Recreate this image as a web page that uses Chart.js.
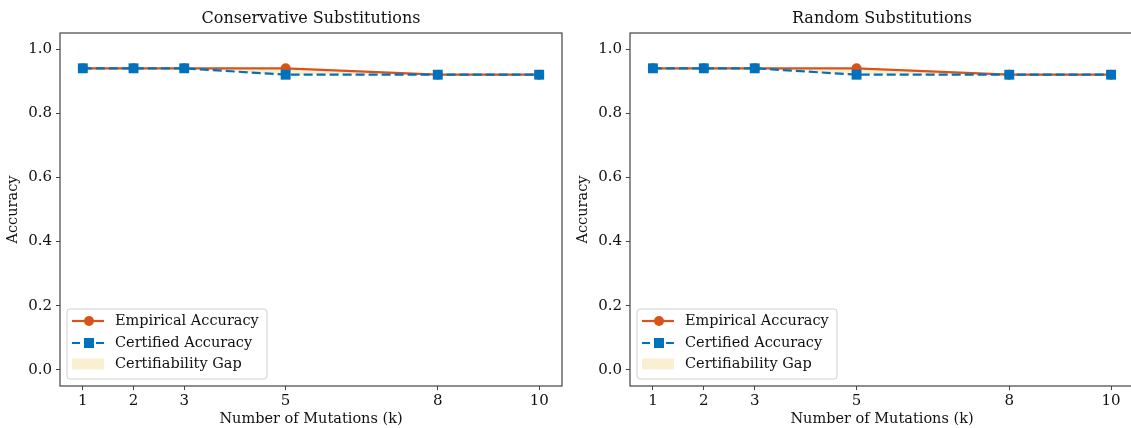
<!DOCTYPE html>
<html>
<head>
<meta charset="utf-8">
<script src="https://cdn.jsdelivr.net/npm/chart.js@4"></script>
<style>
  html, body { margin: 0; padding: 0; background: #fff; overflow: hidden; }
  body { width: 1131px; height: 428px; position: relative; }
  .panel { position: absolute; top: 0; height: 428px; }
</style>
</head>
<body>
<div class="panel" style="left:0; width:569px;"><canvas id="leftChart" width="569" height="428"></canvas></div>
<div class="panel" style="left:570px; width:571px;"><canvas id="rightChart" width="571" height="428"></canvas></div>
<script>
// data
const mutations = [1, 2, 3, 5, 8, 10];
const xTicks = [1, 2, 3, 5, 8, 10];
const yTicks = [0.0, 0.2, 0.4, 0.6, 0.8, 1.0];

const conservativeEmpirical = [0.94, 0.94, 0.94, 0.94, 0.92, 0.92];
const conservativeCertified = [0.94, 0.94, 0.94, 0.92, 0.92, 0.92];
const randomEmpirical = [0.94, 0.94, 0.94, 0.94, 0.92, 0.92];
const randomCertified = [0.94, 0.94, 0.94, 0.92, 0.92, 0.92];

const legendLabels = ['Empirical Accuracy', 'Certified Accuracy', 'Certifiability Gap'];

const orange = '#D95319';
const blue = '#0072BD';
const gapColor = 'rgba(237,177,32,0.2)';
const axisColor = '#444';
const serif = "'DejaVu Serif', serif";

function toPoints(values) {
    return mutations.map((k, i) => ({ x: k, y: values[i] }));
}

// frame, title and matplotlib-style legend
const decorPlugin = {
    id: 'decor',
    afterDraw(chart, args, opts) {
        const ctx = chart.ctx;
        const a = chart.chartArea;
        ctx.save();
        ctx.strokeStyle = axisColor;
        ctx.lineWidth = 1.2;
        ctx.strokeRect(a.left, a.top, a.right - a.left, a.bottom - a.top);

        // title
        ctx.fillStyle = '#111';
        ctx.font = '16px ' + serif;
        ctx.textAlign = 'center';
        ctx.textBaseline = 'middle';
        ctx.fillText(opts.title, (a.left + a.right) / 2, 19);

        // legend box
        const bx = a.left + 7, by = a.bottom - 77, bw = 200, bh = 70;
        ctx.beginPath();
        ctx.roundRect(bx, by, bw, bh, 3);
        ctx.fillStyle = 'rgba(255,255,255,0.85)';
        ctx.fill();
        ctx.strokeStyle = '#d0d0d0';
        ctx.lineWidth = 1;
        ctx.stroke();

        const rows = [by + 12, by + 34, by + 55];
        const lx0 = bx + 5, lx1 = bx + 37, mx = bx + 22;

        // empirical
        ctx.strokeStyle = orange;
        ctx.lineWidth = 2.2;
        ctx.setLineDash([]);
        ctx.beginPath(); ctx.moveTo(lx0, rows[0]); ctx.lineTo(lx1, rows[0]); ctx.stroke();
        ctx.fillStyle = orange;
        ctx.beginPath(); ctx.arc(mx, rows[0], 5, 0, Math.PI * 2); ctx.fill();

        // certified
        ctx.strokeStyle = blue;
        ctx.setLineDash([8, 4]);
        ctx.beginPath(); ctx.moveTo(lx0, rows[1]); ctx.lineTo(lx1, rows[1]); ctx.stroke();
        ctx.setLineDash([]);
        ctx.fillStyle = blue;
        ctx.fillRect(mx - 5, rows[1] - 5, 10, 10);

        // gap patch
        ctx.fillStyle = gapColor;
        ctx.fillRect(lx0, rows[2] - 5.5, lx1 - lx0, 11);

        ctx.fillStyle = '#111';
        ctx.font = '14.5px ' + serif;
        ctx.textAlign = 'left';
        legendLabels.forEach((t, i) => ctx.fillText(t, bx + 48, rows[i]));
        ctx.restore();
    }
};

function makeChart(canvasId, title, empirical, certified) {
    const ctx = document.getElementById(canvasId);
    return new Chart(ctx, {
        type: 'line',
        data: {
            datasets: [
                {
                    label: legendLabels[0],
                    data: toPoints(empirical),
                    borderColor: orange,
                    backgroundColor: orange,
                    borderWidth: 2.2,
                    pointStyle: 'circle',
                    pointRadius: 5,
                    pointBorderWidth: 0,
                    fill: false,
                    order: 2
                },
                {
                    label: legendLabels[1],
                    data: toPoints(certified),
                    borderColor: blue,
                    backgroundColor: blue,
                    borderWidth: 2.2,
                    borderDash: [9, 4],
                    pointStyle: 'rect',
                    pointRadius: 7,
                    pointBorderWidth: 0,
                    fill: false,
                    order: 1
                },
                {
                    label: legendLabels[2],
                    data: toPoints(empirical),
                    borderWidth: 0,
                    pointRadius: 0,
                    backgroundColor: gapColor,
                    fill: 1,
                    order: 3
                }
            ]
        },
        options: {
            responsive: false,
            animation: false,
            layout: { padding: { top: 33, right: 0, left: 0, bottom: 0 } },
            plugins: {
                legend: { display: false },
                tooltip: { enabled: false },
                decor: { title: title }
            },
            scales: {
                x: {
                    type: 'linear',
                    min: 0.55,
                    max: 10.45,
                    afterBuildTicks: s => { s.ticks = xTicks.map(v => ({ value: v })); },
                    afterFit: s => { s.height = 42; },
                    grid: { drawOnChartArea: false, drawTicks: true, tickLength: 4, color: axisColor, tickColor: axisColor },
                    border: { display: false },
                    ticks: { color: '#111', font: { family: serif, size: 15 }, padding: 2, maxRotation: 0 },
                    title: { display: true, text: 'Number of Mutations (k)', color: '#111', font: { family: serif, size: 14.5 }, padding: { top: 0, bottom: 0 } }
                },
                y: {
                    min: -0.05,
                    max: 1.05,
                    afterBuildTicks: s => { s.ticks = yTicks.map(v => ({ value: v })); },
                    afterFit: s => { s.width = 60; },
                    grid: { drawOnChartArea: false, drawTicks: true, tickLength: 4, color: axisColor, tickColor: axisColor },
                    border: { display: false },
                    ticks: { color: '#111', font: { family: serif, size: 15 }, padding: 4, callback: v => v.toFixed(1) },
                    title: { display: true, text: 'Accuracy', color: '#111', font: { family: serif, size: 14.5 }, padding: { top: 5, bottom: 0 } }
                }
            }
        },
        plugins: [decorPlugin]
    });
}

makeChart('leftChart', 'Conservative Substitutions', conservativeEmpirical, conservativeCertified);
makeChart('rightChart', 'Random Substitutions', randomEmpirical, randomCertified);
</script>
</body>
</html>
